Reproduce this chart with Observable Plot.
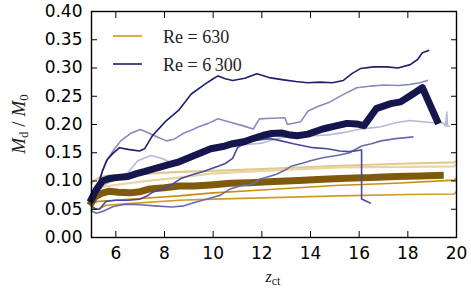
<!DOCTYPE html>
<html>
<head>
<meta charset="utf-8">
<script src="https://cdn.jsdelivr.net/npm/d3@7"></script>
<script src="https://cdn.jsdelivr.net/npm/@observablehq/plot@0.6"></script>
<style>
html, body { margin: 0; padding: 0; background: #fff; }
#chart { width: 471px; height: 294px; }
</style>
</head>
<body>
<div id="chart"></div>
<script>
// ---- tick values ----
const xTicks = [6, 8, 10, 12, 14, 16, 18, 20];
const yTicks = [0, 0.05, 0.1, 0.15, 0.2, 0.25, 0.3, 0.35, 0.4];
const legendLabels = ["Re = 630", "Re = 6\u2009300"];

// ---- data: [z_ct, M_d/M_0] ----
// Re = 630
const re630Pale1 = [[5.0,0.097],[5.3,0.106],[5.6,0.109],[6.5,0.111],[8.6,0.116],[9.9,0.118],[12,0.121],[15.2,0.127],[18,0.131],[19.9,0.133],[20.0,0.136]];
const re630Pale2 = [[5.0,0.082],[5.5,0.090],[6.5,0.096],[7.5,0.101],[8.6,0.106],[9.9,0.113],[12,0.118],[15.2,0.124],[18,0.125],[19.9,0.126],[20.0,0.130]];
const re630Mid1 = [[5.0,0.060],[5.3,0.064],[6.0,0.066],[7.0,0.069],[8.6,0.0736],[10,0.079],[12,0.084],[15,0.092],[17.5,0.096],[19.9,0.1015],[20.0,0.105]];
const re630Mid2 = [[5.0,0.050],[5.3,0.051],[5.6,0.057],[6.5,0.060],[8.6,0.066],[10,0.068],[15.2,0.0736],[18,0.076],[19.9,0.077],[20.0,0.081]];
const re630Mean = [[5.0,0.062],[5.15,0.072],[5.4,0.078],[5.74,0.082],[6.1,0.080],[6.56,0.079],[7.0,0.081],[7.4,0.086],[8.0,0.088],[8.6,0.091],[9.2,0.091],[9.9,0.093],[10.7,0.096],[11.5,0.097],[12.5,0.099],[13.5,0.101],[14.5,0.103],[15.5,0.105],[16.5,0.106],[17.5,0.108],[18.5,0.109],[19.33,0.110]];

// Re = 6 300
const re6300Top = [[5.1,0.075],[5.3,0.095],[5.45,0.118],[5.65,0.138],[5.86,0.148],[6.15,0.159],[6.5,0.156],[6.97,0.153],[7.18,0.157],[7.5,0.180],[7.8,0.194],[8.08,0.207],[8.6,0.226],[9.1,0.254],[9.68,0.272],[10.0,0.281],[10.2,0.286],[10.5,0.281],[10.8,0.278],[11.3,0.282],[11.8,0.290],[12.3,0.283],[12.9,0.279],[13.4,0.276],[13.87,0.274],[14.4,0.275],[14.9,0.274],[15.35,0.278],[15.7,0.290],[16.05,0.299],[16.6,0.302],[17.15,0.302],[17.6,0.300],[18.1,0.306],[18.4,0.315],[18.6,0.327],[18.85,0.331]];
const re6300Light = [[5.3,0.100],[5.6,0.135],[5.95,0.157],[6.2,0.171],[6.6,0.184],[7.0,0.191],[7.3,0.186],[7.7,0.178],[8.08,0.171],[8.4,0.174],[8.8,0.185],[9.1,0.190],[9.4,0.196],[9.8,0.202],[10.2,0.210],[10.7,0.204],[11.2,0.198],[11.65,0.192],[11.9,0.210],[12.4,0.211],[12.95,0.212],[13.05,0.200],[13.6,0.205],[13.9,0.224],[14.3,0.232],[14.8,0.240],[15.3,0.252],[15.9,0.265],[16.5,0.268],[17.0,0.270],[17.6,0.269],[18.1,0.271],[18.5,0.274],[18.8,0.278]];
const re6300Pale = [[5.0,0.070],[5.5,0.093],[6.0,0.103],[6.5,0.115],[6.9,0.136],[7.45,0.145],[7.9,0.140],[8.3,0.132],[9.0,0.142],[9.5,0.150],[10.0,0.156],[10.5,0.160],[11.0,0.163],[11.5,0.165],[12.0,0.167],[12.5,0.174],[13.0,0.178],[13.5,0.182],[14.2,0.180],[14.8,0.182],[15.4,0.186],[16.05,0.192],[16.5,0.194],[16.9,0.196],[17.5,0.203],[18.1,0.207],[18.6,0.205],[19.05,0.203],[19.45,0.203],[19.55,0.197],[19.6,0.222],[19.63,0.197],[19.7,0.197]];
const re6300RunA = [[5.0,0.055],[5.2,0.050],[5.33,0.050],[5.6,0.064],[6.0,0.066],[6.5,0.066],[7.0,0.068],[7.3,0.074],[7.5,0.080],[7.9,0.086],[8.2,0.091],[8.7,0.105],[9.2,0.112],[9.6,0.117],[10.2,0.126],[10.5,0.131],[10.8,0.140],[11.0,0.159],[11.5,0.171],[12.35,0.175],[12.8,0.171],[13.3,0.166],[14.1,0.159],[14.7,0.157],[15.2,0.153],[15.6,0.152],[16.1,0.155],[16.1,0.068],[16.3,0.064],[16.45,0.061]];
const re6300RunB = [[5.0,0.047],[5.2,0.043],[5.5,0.047],[5.9,0.055],[6.4,0.059],[7.0,0.058],[7.6,0.056],[8.3,0.054],[8.8,0.056],[9.3,0.063],[9.9,0.070],[10.3,0.075],[10.7,0.086],[11.1,0.091],[11.65,0.095],[11.9,0.103],[12.3,0.108],[12.6,0.112],[12.9,0.118],[13.2,0.126],[13.7,0.132],[14.0,0.136],[14.5,0.141],[15.2,0.146],[15.6,0.150],[16.1,0.162],[16.5,0.166],[16.9,0.171],[17.5,0.175],[18.2,0.178]];
const re6300Mean = [[5.0,0.068],[5.2,0.085],[5.45,0.100],[5.7,0.104],[6.0,0.106],[6.5,0.108],[6.85,0.113],[7.2,0.117],[7.67,0.123],[8.1,0.128],[8.6,0.134],[9.0,0.141],[9.5,0.150],[9.9,0.157],[10.4,0.161],[10.8,0.166],[11.3,0.170],[11.7,0.176],[12.07,0.181],[12.4,0.184],[12.8,0.185],[13.1,0.182],[13.45,0.180],[13.9,0.183],[14.5,0.192],[15.0,0.197],[15.5,0.202],[15.9,0.201],[16.2,0.198],[16.7,0.228],[17.3,0.237],[17.7,0.240],[18.1,0.251],[18.6,0.265],[19.2,0.207]];

// ---- styles (kept apart from data) ----
const styles = {
  re630Pale1: {stroke: "#e3c98e", width: 2.2},
  re630Pale2: {stroke: "#e8d4a4", width: 2.2},
  re630Mid1: {stroke: "#c98f10", width: 1.6},
  re630Mid2: {stroke: "#cf9a22", width: 1.6},
  re630Mean: {stroke: "#7f5a0c", width: 7},
  re6300Pale: {stroke: "#b7b7d8", width: 1.6},
  re6300Light: {stroke: "#8a8ac0", width: 1.6},
  re6300RunB: {stroke: "#6a6aae", width: 1.6},
  re6300RunA: {stroke: "#4a4a9c", width: 1.6},
  re6300Top: {stroke: "#1f1f6d", width: 1.6},
  re6300Mean: {stroke: "#16164f", width: 7}
};
const seriesList = [
  ["re630Pale1", re630Pale1], ["re630Pale2", re630Pale2],
  ["re630Mid1", re630Mid1], ["re630Mid2", re630Mid2],
  ["re630Mean", re630Mean],
  ["re6300Pale", re6300Pale], ["re6300Light", re6300Light],
  ["re6300RunB", re6300RunB], ["re6300RunA", re6300RunA],
  ["re6300Top", re6300Top], ["re6300Mean", re6300Mean]
];
const legendColors = ["#d09a1c", "#1f1f6d"];

const lineMarks = seriesList.map(([name, data]) => Plot.line(data, {
  x: d => d[0], y: d => d[1],
  stroke: styles[name].stroke, strokeWidth: styles[name].width,
  strokeLinejoin: "round", strokeLinecap: "square"
}));

const svg = Plot.plot({
  width: 471, height: 294,
  marginLeft: 91, marginRight: 15, marginTop: 11, marginBottom: 57,
  x: {domain: [5, 20]},
  y: {domain: [0, 0.4]},
  style: {fontFamily: "'DejaVu Sans', sans-serif", fontSize: "17px", background: "white", color: "black"},
  marks: [
    ...lineMarks,
    Plot.axisX({ticks: xTicks, tickSize: -6, tickPadding: 15, tickFormat: d3.format("d"), label: null, stroke: "black", fill: "black"}),
    Plot.axisX({anchor: "top", ticks: xTicks, tickSize: -6, tickFormat: () => "", label: null, stroke: "black"}),
    Plot.axisY({ticks: yTicks, tickSize: -6, tickPadding: 15, tickFormat: d3.format(".2f"), label: null, stroke: "black", fill: "black"}),
    Plot.axisY({anchor: "right", ticks: yTicks, tickSize: -6, tickFormat: () => "", label: null, stroke: "black"}),
    Plot.frame({stroke: "black", strokeWidth: 1.4})
  ]
});

const s = d3.select(svg);
// x label
const xl = s.append("text").attr("x", 273).attr("y", 282).attr("text-anchor", "middle")
  .attr("font-family", "'Liberation Serif', serif").attr("font-size", 16).attr("fill", "#222");
xl.append("tspan").attr("font-style", "italic").text("z");
xl.append("tspan").attr("font-size", 12).attr("dy", 3).text("ct");
// y label
const yl = s.append("text").attr("transform", "translate(25,124) rotate(-90)").attr("text-anchor", "middle")
  .attr("font-family", "'Liberation Serif', serif").attr("font-size", 19).attr("fill", "#222");
yl.append("tspan").attr("font-style", "italic").text("M");
yl.append("tspan").attr("font-size", 13).attr("dy", 3).text("d");
yl.append("tspan").attr("dy", -3).text(" / ");
yl.append("tspan").attr("font-style", "italic").text("M");
yl.append("tspan").attr("font-size", 13).attr("dy", 3).text("0");
// legend
legendLabels.forEach((lab, i) => {
  const y = 36 + i * 28;
  s.append("line").attr("x1", 113).attr("x2", 142).attr("y1", y).attr("y2", y)
    .attr("stroke", legendColors[i]).attr("stroke-width", 1.6);
  s.append("text").attr("x", 163).attr("y", y + 7).attr("text-anchor", "start")
    .attr("font-family", "'Liberation Serif', serif").attr("font-size", 18).attr("fill", "#222")
    .style("white-space", "pre").text(lab);
});

document.getElementById("chart").appendChild(svg);
</script>
</body>
</html>
